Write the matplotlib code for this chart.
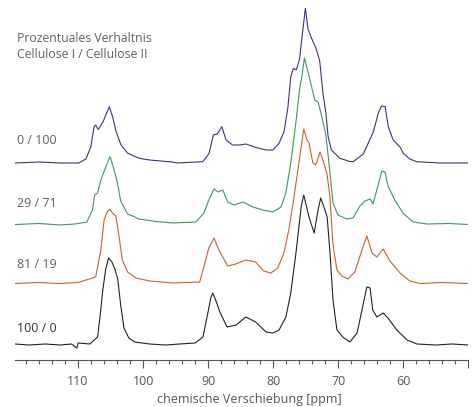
import matplotlib
matplotlib.use("Agg")
import matplotlib.pyplot as plt
from matplotlib.ticker import FixedLocator, MultipleLocator

# ---------------- data ----------------
# chemical shift [ppm] and intensity (a.u.) for each spectrum
ppm_100_0 = [119.7, 117.5, 115.0, 112.8, 111.0, 110.2, 110.0, 108.2, 107.0, 106.6, 106.2,
             105.75, 105.3, 104.8, 104.35, 103.9, 103.45, 102.95, 102.2, 101.3, 99.0, 96.5,
             94.4, 92.0, 90.8, 90.05, 89.6, 89.3, 88.9, 88.2, 87.1, 85.7, 84.2, 82.7, 81.1,
             80.05, 79.1, 78.05, 77.3, 76.5, 75.7, 75.3, 74.5, 73.7, 73.1, 72.7, 72.2, 71.7,
             71.3, 70.8, 70.2, 69.3, 68.2, 67.1, 66.35, 65.6, 65.1, 64.7, 64.05, 63.1, 62.35,
             61.0, 59.4, 57.9, 55.0, 52.5, 50.0]
int_100_0 = [1, 0, 1, 0, 1, -3, 2, 1, 8, 30, 55, 76, 87, 83, 76, 66, 40, 17, 7, 3, 1, 0,
             1, 2, 8, 32, 47, 52, 46, 33, 18, 20, 28, 23, 13, 12, 15, 28, 52, 92, 138, 150,
             128, 112, 135, 147, 138, 128, 95, 45, 15, 8, 3, 12, 35, 58, 57, 35, 28, 32, 27,
             15, 5, 1, 0, 1, 0]

ppm_81_19 = [119.7, 116.0, 112.8, 110.0, 107.3, 106.5, 106.0, 105.5, 105.1, 104.7, 104.2,
             103.8, 103.2, 102.4, 101.1, 99.0, 95.4, 91.3, 90.7, 89.9, 89.1, 88.35, 87.0,
             85.75, 84.2, 82.7, 81.45, 80.35, 79.3, 78.35, 77.6, 76.8, 76.05, 75.3, 74.8,
             74.5, 73.9, 73.45, 72.8, 72.35, 71.75, 71.3, 70.8, 70.2, 69.45, 68.5, 67.45,
             66.35, 65.6, 64.8, 64.05, 63.1, 62.05, 60.5, 59.0, 57.4, 54.0, 50.0]
int_81_19 = [0, 1, 0, 1, 6.5, 33.5, 63.5, 72, 74, 70.5, 67.5, 51.5, 23.5, 11.5, 5.5, 2.5,
             0.5, 1.5, 15.5, 35.5, 45.5, 33.5, 17.5, 19.5, 23.5, 21.5, 12.5, 10.5, 15.5,
             30.5, 53.5, 86.5, 120.5, 154.5, 143.5, 140.5, 120.5, 118.5, 131.5, 123.5,
             110.5, 88.5, 38.5, 13.5, 7.5, 4.5, 11.5, 33.5, 47.5, 30.5, 26.5, 34.5, 22.5,
             10.5, 2.5, 0, 1, 0]

ppm_29_71 = [119.7, 116.0, 112.8, 110.5, 108.65, 107.8, 107.45, 107.0, 106.5, 105.75, 105.1,
             104.45, 103.95, 103.45, 102.4, 101.6, 100.65, 98.05, 95.45, 91.9, 90.65, 89.9,
             89.1, 88.5, 87.75, 87.0, 86.05, 84.65, 83.1, 81.6, 80.05, 78.8, 78.05, 77.3,
             76.5, 75.9, 75.6, 75.2, 74.65, 74.2, 73.6, 73.1, 72.5, 71.9, 71.45, 70.8, 70.05,
             68.65, 67.75, 66.65, 65.9, 65.1, 64.65, 63.9, 63.3, 62.8, 62.35, 61.3, 60.05,
             58.5, 56.35, 53.0, 50.0]
int_29_71 = [0, 1, -0.5, 0.5, 2.5, 14.5, 29.5, 31.5, 44.5, 57.5, 68, 54.5, 41.5, 23.5, 10.5,
             8.5, 5.5, 3, 1.5, 2.5, 11.5, 24.5, 35.5, 32.5, 34.5, 22.5, 19.5, 22.5, 17.5,
             14.5, 12.5, 17.5, 31.5, 61.5, 102.5, 137.5, 147.5, 166.5, 152.5, 140.5, 124.5,
             122.5, 107.5, 89.5, 62.5, 21.5, 9.5, 5.5, 6.5, 18.5, 23.5, 25.5, 20.5, 38.5,
             53.5, 52.5, 38.5, 24.5, 11.5, 2.5, 0.5, 1, 0]

ppm_0_100 = [119.7, 116.0, 112.8, 109.9, 108.8, 108.05, 107.55, 107.3, 106.9, 106.15, 105.65,
             105.2, 104.7, 104.15, 103.4, 102.4, 101.6, 100.6, 99.0, 95.5, 94.85, 90.85,
             90.25, 89.85, 89.2, 88.6, 87.9, 87.25, 86.25, 85.1, 84.2, 82.65, 81.1, 80.05,
             79.1, 78.35, 77.75, 77.3, 76.9, 76.45, 75.95, 75.5, 75.05, 74.65, 74.15, 73.4,
             72.85, 72.35, 71.9, 71.55, 71.05, 69.75, 68.2, 67.7, 66.15, 64.6, 63.85, 63.35,
             62.8, 62.3, 61.55, 60.5, 60.0, 59.0, 57.95, 54.35, 50.0]
int_0_100 = [0, 1, 0, 0, 4, 16, 36, 38, 33.5, 41.3, 49.7, 56.3, 46.3, 31.5, 18, 10, 7.5,
             4.7, 3, 1, 0, 1.3, 6, 10, 28, 29, 36.3, 23, 18, 18, 19, 15.5, 13, 13, 19.7, 31,
             55, 86, 94.7, 93, 104, 129.7, 154.7, 134, 125.5, 114.5, 102, 70, 50, 26.3, 13,
             4.7, 1.5, 1.3, 9, 31, 49.7, 57, 56.5, 36.3, 23, 16, 9.7, 4, 1.3, 0, 0]

labels = ["0 / 100", "29 / 71", "81 / 19", "100 / 0"]
offsets = [197, 135.5, 76.5, 15]
colors = ["#4a2a88", "#3a9a58", "#cf5f2a", "#222222"]
label_colors = ["#606060", "#606060", "#606060", "#333333"]
title_lines = ["Prozentuales Verhältnis", "Cellulose I / Cellulose II"]
major_ticks = [110, 100, 90, 80, 70, 60]
xlabel = "chemische Verschiebung [ppm]"

series_ppm = [ppm_0_100, ppm_29_71, ppm_81_19, ppm_100_0]
series_int = [int_0_100, int_29_71, int_81_19, int_100_0]

# ---------------- figure ----------------
plt.rcParams['font.family'] = ['Open Sans', 'DejaVu Sans']
W, H = 476, 407
fig = plt.figure(figsize=(W / 100, H / 100), dpi=100)
ax = fig.add_axes([15 / W, (H - 360) / H, (468.3 - 15) / W, 360 / H])

for p, v, off, c in zip(series_ppm, series_int, offsets, colors):
    ax.plot(p, [off + y for y in v], color=c, lw=0.8, solid_joinstyle='round')

ax.set_xlim(119.7, 50)
ax.set_ylim(0, 360)
for s in ["top", "left", "right"]:
    ax.spines[s].set_visible(False)
ax.spines["bottom"].set_color("#555555")
ax.spines["bottom"].set_linewidth(0.8)
ax.set_yticks([])
ax.xaxis.set_major_locator(FixedLocator(major_ticks + [50]))
ax.set_xticklabels([str(t) for t in major_ticks] + [""])
ax.xaxis.set_minor_locator(MultipleLocator(2))
ax.tick_params(axis="x", which="major", length=5.5, width=0.8, color="#555555",
               labelsize=9, labelcolor="#555555", pad=5)
ax.tick_params(axis="x", which="minor", length=3, width=0.8, color="#555555")

fig.text(249 / W, 1 - 399 / H, xlabel, ha="center", va="center", fontsize=9, color="#555555")
fig.text(17 / W, 1 - 39 / H, title_lines[0], ha="left", va="center", fontsize=8.8, color="#606060")
fig.text(17 / W, 1 - 54 / H, title_lines[1], ha="left", va="center", fontsize=8.8, color="#606060")
label_y = [140, 203, 265, 328]
for lab, ly, lc in zip(labels, label_y, label_colors):
    fig.text(17 / W, 1 - ly / H, lab, ha="left", va="center", fontsize=9, color=lc)

fig.savefig("out.png", dpi=100)
